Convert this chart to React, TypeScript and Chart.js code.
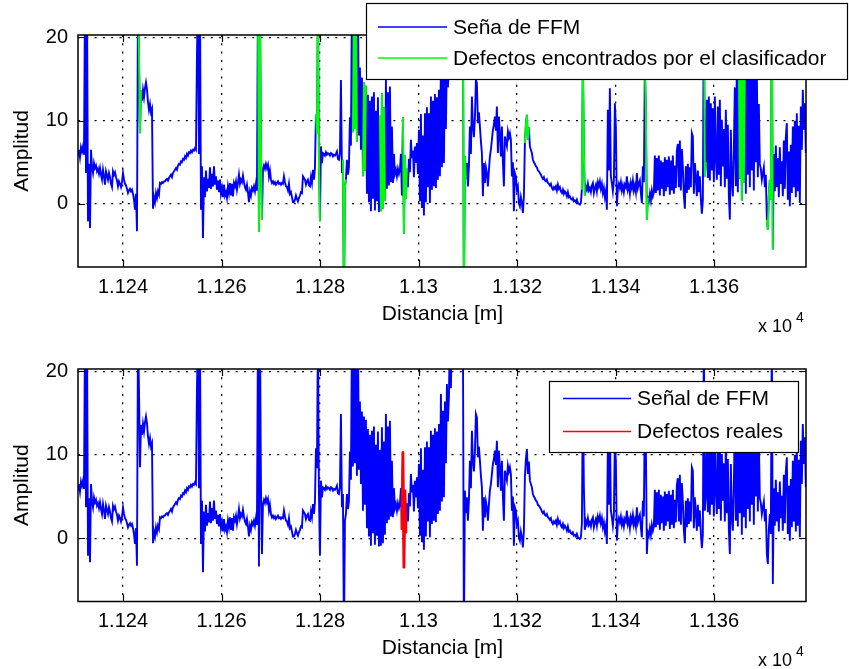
import React, { useEffect, useRef } from 'react';
import { Chart, registerables } from 'chart.js';

Chart.register(...registerables);

// Señal de FFM: one sample every `paso` metres starting at `distanciaInicial`
const distanciaInicial = 11230.86; // m
const paso = 0.203; // m

const amplitud = [
  5.8, 6.5, 5.6, 6.8, 6.3, 6.9, 5.9, 25, 3.7, 25,
  -2.1, 4.8, -2.9, 6.5, 4.4, 3.7, 4.9, 4.3, 4.6, 3.9,
  4.2, 3.6, 4.3, 3.5, 2.9, 4.1, 3.3, 2.3, 3.9, 3.4,
  2.9, 3.7, 3.2, 2.4, 2.0, 3.9, 3.5, 3.8, 3.2, 2.8,
  2.1, 2.7, 2.4, 2.0, 2.6, 3.7, 2.9, 2.4, 2.2, 1.8,
  1.3, 1.6, 1.8, 1.5, 1.7, 1.2, 0.5, -0.7, 1.2, -3.3,
  25, 17.9, 8.5, 13.6, 12.4, 13.7, 12.8, 13.9, 14.6, 13.8,
  12.2, 11.3, 12.0, 11.0, 11.4, -0.6, 0.8, 0.2, 1.3, 0.7,
  1.5, 1.1, 2.5, 2.4, 2.6, 2.5, 2.7, 2.7, 2.9, 3.0,
  2.8, 3.1, 3.3, 3.5, 3.2, 3.7, 3.9, 4.1, 4.3, 4.1,
  4.6, 4.8, 4.7, 5.1, 5.0, 5.4, 5.3, 5.7, 5.5, 6.0,
  5.8, 6.2, 6.1, 6.4, 6.2, 6.5, 6.4, 6.7, 6.5, 18.0,
  25, 6.0, 25, -0.7, 4.5, -4.1, 3.2, 0.8, 4.0, 1.5,
  3.0, 1.9, 4.4, 1.8, 3.6, 2.1, 4.5, 2.3, 3.3, 1.7,
  2.8, 1.4, 2.9, 1.2, 1.9, 0.8, 2.3, 1.0, 1.4, 0.7,
  2.1, 1.3, 2.5, 1.0, 2.4, 0.9, 2.5, 2.1, 2.7, 1.7,
  2.5, 3.5, 2.4, 2.9, 2.6, 3.4, 2.6, 2.0, 1.7, 2.3,
  1.4, 0.2, 1.5, 1.0, 1.9, 1.6, 2.1, 1.5, 2.4, 1.6,
  25, -3.4, 25, 6.4, -1.9, 4.1, 4.6, 4.2, 4.8, 4.3,
  4.7, 3.3, 4.0, 2.9, 2.5, 2.7, 2.4, 2.6, 2.3, 2.5,
  2.7, 2.4, 2.5, 2.3, 2.5, 2.4, 3.3, 2.6, 2.1, 2.0,
  1.6, 2.4, 1.2, 1.4, 0.8, 0.2, 0.2, 0.5, 1.0, 0.6,
  0.3, 0.7, 1.0, 1.4, 1.3, 3.3, 3.1, 2.9, 2.3, 2.7,
  2.9, 2.2, 2.1, 3.2, 2.5, 4.1, 2.9, 4.3, 10.8, 8.4,
  25, 5.3, -2.1, 6.9, 4.9, 6.1, 6.0, 5.8, 6.2, 5.9,
  6.1, 6.0, 5.8, 6.1, 6.0, 5.7, 5.9, 5.8, 6.0, 6.3,
  5.4, 5.3, 6.1, 14.9, 3.7, 5.3, -12, 2.1, 2.9, 5.3,
  3.5, 4.4, 10.4, 7.0, 25, 8.6, 25, 9.0, 25, 7.5,
  25, 8.2, 16.4, 6.5, 15.2, 3.3, 14.6, 4.0, 14.2, 1.2,
  13.1, 0.2, 12.4, -0.9, 12.9, 0.6, 13.4, -0.8, 11.2, 0.3,
  12.8, -1.0, 10.6, -0.9, 13.3, -0.6, 11.6, 0.4, 14.9, 1.8,
  13.4, 2.2, 14.1, 2.6, 9.3, 2.5, 6.0, 3.6, 4.1, 3.3,
  4.2, 3.6, 4.1, 6.0, 1.0, 10.4, -3.6, 5.8, 0.6, 4.2,
  2.0, 5.4, 3.8, 7.7, 5.5, 6.4, 3.2, 6.9, 4.9, 7.3,
  3.6, 8.9, 0.3, 10.8, -0.5, 8.2, -1.4, 10.9, 0.2, 11.6,
  2.0, 10.9, 0.1, 12.9, 1.7, 12.4, 2.1, 13.2, 1.9, 12.8,
  2.9, 13.7, 3.3, 17.3, 4.4, 15.3, 4.9, 16.4, 9.0, 18.5,
  14.0, 16.9, 25, 18.0, 25, 25, 25, 25, 25, 25,
  25, 25, 25, 25, 25, 25, -12, 5.7, 3.0, 4.9,
  2.1, 4.5, 9.3, 6.0, 12.9, 9.3, 8.0, 10.3, 14.9, 14.5,
  9.7, 11.0, 9.3, 7.5, 6.1, 0.9, 4.9, 2.5, 4.4, 3.7,
  2.1, 4.0, 5.7, 6.5, 7.7, 8.9, 9.5, 10.5, 8.8, 11.7,
  6.1, 10.5, 8.4, 5.7, 9.3, 5.0, 2.1, 8.1, 7.4, 6.9,
  8.7, 8.0, 8.5, 7.7, 3.3, 5.0, -0.9, 3.7, 3.3, 1.7,
  2.1, 0.1, -0.3, 0.8, 0.1, -1.1, 0.9, 7.3, 9.5, 10.7,
  7.7, 9.2, 6.9, 6.5, 6.1, 5.3, 5.0, 4.8, 4.5, 4.4,
  4.0, 3.9, 3.7, 3.5, 3.2, 3.0, 3.2, 2.8, 2.7, 2.9,
  2.5, 2.4, 2.2, 2.4, 1.9, 1.7, 2.0, 1.8, 2.1, 1.6,
  2.3, 1.8, 2.0, 1.5, 1.3, 1.7, 1.2, 1.5, 1.3, 0.9,
  1.4, 0.8, 0.9, 0.6, 0.5, 0.7, 0.3, 0.4, 0.2, 0.5,
  0.1, 0.0, -0.1, 0.1, 1.7, 17.5, 6.1, 1.0, 2.1, 1.7,
  2.4, 1.6, 1.9, 1.4, 2.2, 2.5, 1.3, 1.9, 2.3, 1.5,
  2.6, 2.1, 2.7, 1.8, 2.4, 1.3, 1.9, 0.8, 1.5, -0.7,
  11.3, 4.0, 13.9, 3.3, 2.5, 1.5, 2.8, 12.1, 9.2, -0.3,
  1.8, 2.4, 1.9, 2.6, 1.6, 2.2, 1.4, 2.3, 2.0, 3.3,
  1.7, 2.2, 1.2, 2.5, 1.9, 2.8, 1.6, 2.2, 1.4, 3.7,
  1.9, 2.4, 2.8, 1.3, 0.1, 4.5, 2.6, 16.5, 11.3, -1.9,
  0.7, 0.3, 1.2, 0.4, 1.6, 0.9, 1.4, 5.8, 1.3, 5.5,
  1.6, 5.8, 1.0, 5.2, 1.8, 5.0, 0.9, 5.6, 1.5, 5.3,
  2.0, 5.7, 1.1, 5.2, 1.6, 5.8, 1.2, 4.6, 1.9, 6.4,
  7.2, 2.0, 7.6, 1.6, 6.6, 4.4, 1.0, -0.6, 4.5, 1.3,
  4.8, 1.7, 4.4, 2.0, 8.5, 8.1, 1.2, 4.9, 3.2, 0.9,
  4.0, 1.4, 3.3, 0.6, -1.2, 0.4, 25, 3.3, 5.0, 12.5,
  3.1, 12.9, 2.8, 12.1, 4.0, 11.5, 2.6, 12.9, 5.5, 2.9,
  11.7, 3.5, 12.5, 2.1, 10.1, 4.5, 9.0, 2.0, 11.3, 3.0,
  9.5, 1.0, -1.9, 8.9, 2.5, 0.9, 6.5, 14.0, 2.1, 17.0,
  1.4, 16.8, 3.0, 17.2, 0.4, 16.5, 2.5, 16.0, 1.2, 17.3,
  3.5, 16.9, 2.0, 17.4, 4.0, 16.6, 1.6, 17.0, 5.0, 16.2,
  3.2, 12.0, 4.8, 4.2, 2.9, 3.7, 4.4, 2.0, 3.5, -1.9,
  -3.1, 1.0, 2.9, 0.5, 25, -5.5, 6.0, 1.5, 7.0, 2.0,
  5.5, 0.8, 6.8, 2.4, 5.1, 0.9, 7.6, 1.8, 8.0, 9.7,
  0.5, 6.3, -0.3, 7.1, 1.3, 9.3, 2.0, 10.0, 0.8, 10.9,
  1.5, 9.4, 0.1, 11.7, 6.5, 13.7, 8.9, 12.1, 6.1,
];

// Stretches flagged by the classifier (start / end, m)
const clasificadorInicio = [
  11242.94, 11267.31, 11279.08, 11284.57, 11286.6, 11288.63, 11292.08, 11296.75,
  11308.93, 11321.52, 11333.1, 11345.89, 11357.87, 11364.97, 11370.66,
];
const clasificadorFin = [
  11243.75, 11268.32, 11280.1, 11285.38, 11287.61, 11289.44, 11293.3, 11297.77,
  11309.74, 11322.54, 11333.91, 11346.7, 11358.48, 11366.4, 11372.08,
];

// Real defects (start / end, m)
const realesInicio = [11296.55];
const realesFin = [11297.56];

const ticksDistancia = [11240, 11260, 11280, 11300, 11320, 11340, 11360];
const ticksAmplitud = [0, 10, 20];
const limiteX = [11230.86, 11378.68];
const limiteY = [-7.6, 20.3];

const FUENTE = '"Liberation Sans", Arial, Helvetica, sans-serif';
const AZUL = '#0000ff';
const VERDE = '#00ff00';
const ROJO = '#ff0000';

function puntosSenal() {
  return amplitud.map((v, i) => ({ x: distanciaInicial + i * paso, y: v }));
}

function puntosEnTramos(inicios: number[], finales: number[]) {
  return amplitud.map((v, i) => {
    const x = distanciaInicial + i * paso;
    const dentro = inicios.some((a, k) => x >= a && x <= finales[k]);
    return { x, y: dentro ? v : null };
  });
}

type Fila = { texto: string; color: string; y: number };
type Leyenda = { caja: [number, number, number, number]; lineaX: [number, number]; textoX: number; filas: Fila[] };

function marcoMatlab(leyenda: Leyenda) {
  return {
    id: 'marcoMatlab',
    afterDraw(chart: any) {
      const { ctx, chartArea: a, scales } = chart;
      const xs = scales.x;
      const ys = scales.y;
      ctx.save();
      ctx.setLineDash([]);
      ctx.strokeStyle = '#000';

      // axes box
      ctx.lineWidth = 1.5;
      ctx.strokeRect(a.left, a.top, a.right - a.left, a.bottom - a.top);

      // inward tick marks on all four sides
      const L = 7;
      ctx.lineWidth = 1.2;
      ctx.beginPath();
      for (const t of ticksDistancia) {
        const px = Math.round(xs.getPixelForValue(t)) + 0.5;
        ctx.moveTo(px, a.bottom);
        ctx.lineTo(px, a.bottom - L);
        ctx.moveTo(px, a.top);
        ctx.lineTo(px, a.top + L);
      }
      for (const t of ticksAmplitud) {
        const py = Math.round(ys.getPixelForValue(t)) + 0.5;
        ctx.moveTo(a.left, py);
        ctx.lineTo(a.left + L, py);
        ctx.moveTo(a.right, py);
        ctx.lineTo(a.right - L, py);
      }
      ctx.stroke();

      // axis titles
      ctx.fillStyle = '#000';
      ctx.font = `21px ${FUENTE}`;
      ctx.textAlign = 'center';
      ctx.textBaseline = 'middle';
      ctx.fillText('Distancia [m]', (a.left + a.right) / 2 + 0.5, a.bottom + 47);
      ctx.save();
      ctx.translate(22, (a.top + a.bottom) / 2);
      ctx.rotate(-Math.PI / 2);
      ctx.fillText('Amplitud', 0, 0);
      ctx.restore();

      // exponent of the distance axis
      ctx.textAlign = 'left';
      ctx.font = `18px ${FUENTE}`;
      ctx.fillText('x 10', 758, a.bottom + 60);
      ctx.font = `14px ${FUENTE}`;
      ctx.fillText('4', 796, a.bottom + 51);

      // legend
      const [bx, by, bw, bh] = leyenda.caja;
      ctx.fillStyle = '#fff';
      ctx.fillRect(bx, by, bw, bh);
      ctx.lineWidth = 1.2;
      ctx.strokeStyle = '#000';
      ctx.strokeRect(bx + 0.5, by + 0.5, bw, bh);
      ctx.font = `21px ${FUENTE}`;
      ctx.textBaseline = 'middle';
      for (const f of leyenda.filas) {
        ctx.strokeStyle = f.color;
        ctx.lineWidth = 1.6;
        ctx.beginPath();
        ctx.moveTo(leyenda.lineaX[0], f.y);
        ctx.lineTo(leyenda.lineaX[1], f.y);
        ctx.stroke();
        ctx.fillStyle = '#000';
        ctx.fillText(f.texto, leyenda.textoX, f.y + 1);
      }
      ctx.restore();
    },
  };
}

function opciones(altoCanvas: number, fondoArea: number) {
  const rejilla = { color: '#000', lineWidth: 1.3, drawTicks: false };
  const borde = { display: false, dash: [2, 6.3] };
  return {
    animation: false,
    responsive: false,
    devicePixelRatio: 1,
    events: [],
    layout: { padding: { left: 0, top: 35, right: 43, bottom: 0 } },
    plugins: { legend: { display: false }, tooltip: { enabled: false } },
    elements: { point: { radius: 0 }, line: { tension: 0 } },
    scales: {
      x: {
        type: 'linear',
        min: limiteX[0],
        max: limiteX[1],
        afterBuildTicks: (s: any) => {
          s.ticks = ticksDistancia.map((value) => ({ value }));
        },
        afterFit: (s: any) => {
          s.height = altoCanvas - fondoArea;
        },
        ticks: {
          autoSkip: false,
          maxRotation: 0,
          minRotation: 0,
          padding: 8,
          color: '#000',
          font: { family: FUENTE, size: 20 },
          callback: (v: any) => String(+(Number(v) / 1e4).toFixed(4)),
        },
        grid: rejilla,
        border: borde,
      },
      y: {
        type: 'linear',
        min: limiteY[0],
        max: limiteY[1],
        afterBuildTicks: (s: any) => {
          s.ticks = ticksAmplitud.map((value) => ({ value }));
        },
        afterFit: (s: any) => {
          s.width = 78;
        },
        ticks: {
          padding: 10,
          color: '#000',
          font: { family: FUENTE, size: 20 },
          callback: (v: any) => String(v),
        },
        grid: rejilla,
        border: borde,
      },
    },
  };
}

function Panel(props: { top: number; alto: number; fondoArea: number; datasets: any[]; leyenda: Leyenda }) {
  const ref = useRef<HTMLCanvasElement | null>(null);
  useEffect(() => {
    const chart = new Chart(ref.current as HTMLCanvasElement, {
      type: 'line',
      data: { datasets: props.datasets },
      options: opciones(props.alto, props.fondoArea) as any,
      plugins: [marcoMatlab(props.leyenda)],
    });
    return () => chart.destroy();
  }, []);
  return (
    <canvas
      ref={ref}
      width={849}
      height={props.alto}
      style={{ position: 'absolute', left: 0, top: props.top, width: 849, height: props.alto }}
    />
  );
}

export default function App() {
  const senal = {
    label: 'Señal de FFM',
    data: puntosSenal(),
    borderColor: AZUL,
    borderWidth: 1.9,
    order: 1,
  };
  const clasificador = {
    label: 'Defectos encontrados por el clasificador',
    data: puntosEnTramos(clasificadorInicio, clasificadorFin),
    borderColor: VERDE,
    borderWidth: 1.9,
    spanGaps: false,
    order: 0,
  };
  const reales = {
    label: 'Defectos reales',
    data: puntosEnTramos(realesInicio, realesFin),
    borderColor: ROJO,
    borderWidth: 2.8,
    spanGaps: false,
    order: 0,
  };

  const leyendaArriba: Leyenda = {
    caja: [366, 3, 481, 76],
    lineaX: [378, 447],
    textoX: 453,
    filas: [
      { texto: 'Seña de FFM', color: AZUL, y: 27 },
      { texto: 'Defectos encontrados por el clasificador', color: VERDE, y: 58 },
    ],
  };
  const leyendaAbajo: Leyenda = {
    caja: [549, 47, 249, 71],
    lineaX: [563, 631],
    textoX: 637,
    filas: [
      { texto: 'Señal de FFM', color: AZUL, y: 64.5 },
      { texto: 'Defectos reales', color: ROJO, y: 97.5 },
    ],
  };

  return (
    <div style={{ position: 'absolute', left: 0, top: 0, width: 849, height: 669, background: '#fff' }}>
      <Panel top={0} alto={334} fondoArea={267} datasets={[senal, clasificador]} leyenda={leyendaArriba} />
      <Panel top={334} alto={335} fondoArea={267.5} datasets={[senal, reales]} leyenda={leyendaAbajo} />
    </div>
  );
}
